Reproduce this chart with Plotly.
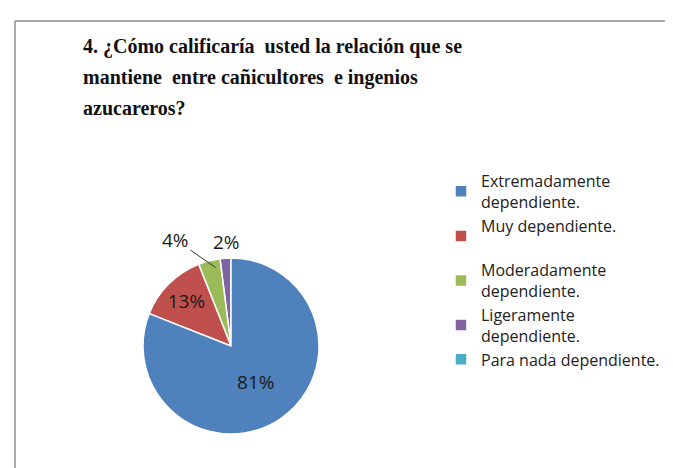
import math
import plotly.graph_objects as go

# Data (listed in the order the slices appear going clockwise from 12 o'clock)
categories = [
    "Extremadamente<br>dependiente.",
    "Muy dependiente.<br> ",
    "Moderadamente<br>dependiente.",
    "Ligeramente<br>dependiente.",
    "Para nada dependiente.",
]
values = [81, 13, 4, 2, 0]
colors = ["#4F81BD", "#C0504D", "#9BBB59", "#8064A2", "#4BACC6"]
text_pos = ["inside", "inside", "none", "none", "none"]
title_lines = [
    "4. ¿Cómo calificaría  usted la relación que se",
    "mantiene  entre cañicultores  e ingenios",
    "azucareros?",
]

W, H = 673, 468
cx, cy, r = 223, 338, 88

rev = lambda a: list(reversed(a))

fig = go.Figure()
fig.add_trace(go.Pie(
    labels=rev(categories),
    values=rev(values),
    sort=False,
    direction="counterclockwise",
    rotation=0,
    marker=dict(colors=rev(colors), line=dict(color="white", width=1.5)),
    texttemplate="%{percent:.0%}",
    textposition=rev(text_pos),
    insidetextorientation="horizontal",
    textfont=dict(family="Open Sans", size=19, color="#1a1a1a"),
    domain=dict(x=[(cx - r) / W, (cx + r) / W], y=[1 - (cy + r) / H, 1 - (cy - r) / H]),
    showlegend=True,
    hoverinfo="label+percent",
))

annotations = []
for i, line in enumerate(title_lines):
    annotations.append(dict(
        text="<b>" + line + "</b>", xref="paper", yref="paper",
        x=73 / W, xanchor="left", y=1 - (38 + 31 * i) / H, yanchor="middle",
        showarrow=False, font=dict(family="Liberation Serif", size=20, color="#111"),
    ))

# outside labels for the small slices, anchored at each slice's mid-angle on the rim
total = sum(values)
pcx, pcy, pr = 231, 345, 87
outside = {2: dict(ax=-42, ay=-29, arrowcolor="#333"),
           3: dict(ax=-7, ay=-24, arrowcolor="rgba(0,0,0,0)")}
for idx, st in outside.items():
    start = sum(values[:idx])
    theta = 2 * math.pi * (start + values[idx] / 2) / total
    ex = pcx + pr * math.sin(theta)
    ey = pcy - pr * math.cos(theta)
    annotations.append(dict(
        text=f"{values[idx] / total:.0%}", xref="paper", yref="paper",
        x=ex / W, y=1 - ey / H, showarrow=True, arrowhead=0, arrowwidth=1,
        standoff=2, font=dict(family="Open Sans", size=19, color="#1a1a1a"), **st,
    ))

fig.update_layout(
    width=W, height=H,
    margin=dict(l=0, r=0, t=0, b=0),
    paper_bgcolor="white",
    plot_bgcolor="white",
    annotations=annotations,
    legend=dict(
        x=433 / W, xanchor="left",
        y=1 - 156 / H, yanchor="top",
        font=dict(family="Open Sans", size=16, color="#222"),
        itemwidth=30,
        traceorder="reversed",
        tracegroupgap=0,
        bgcolor="rgba(0,0,0,0)",
    ),
    shapes=[
        dict(type="line", xref="paper", yref="paper", x0=7 / W, x1=1, y0=1 - 13 / H, y1=1 - 13 / H,
             line=dict(color="#8c8c8c", width=1.5)),
        dict(type="line", xref="paper", yref="paper", x0=7 / W, x1=7 / W, y0=0, y1=1 - 13 / H,
             line=dict(color="#8c8c8c", width=1.5)),
    ],
)

fig.write_html("out.html")
